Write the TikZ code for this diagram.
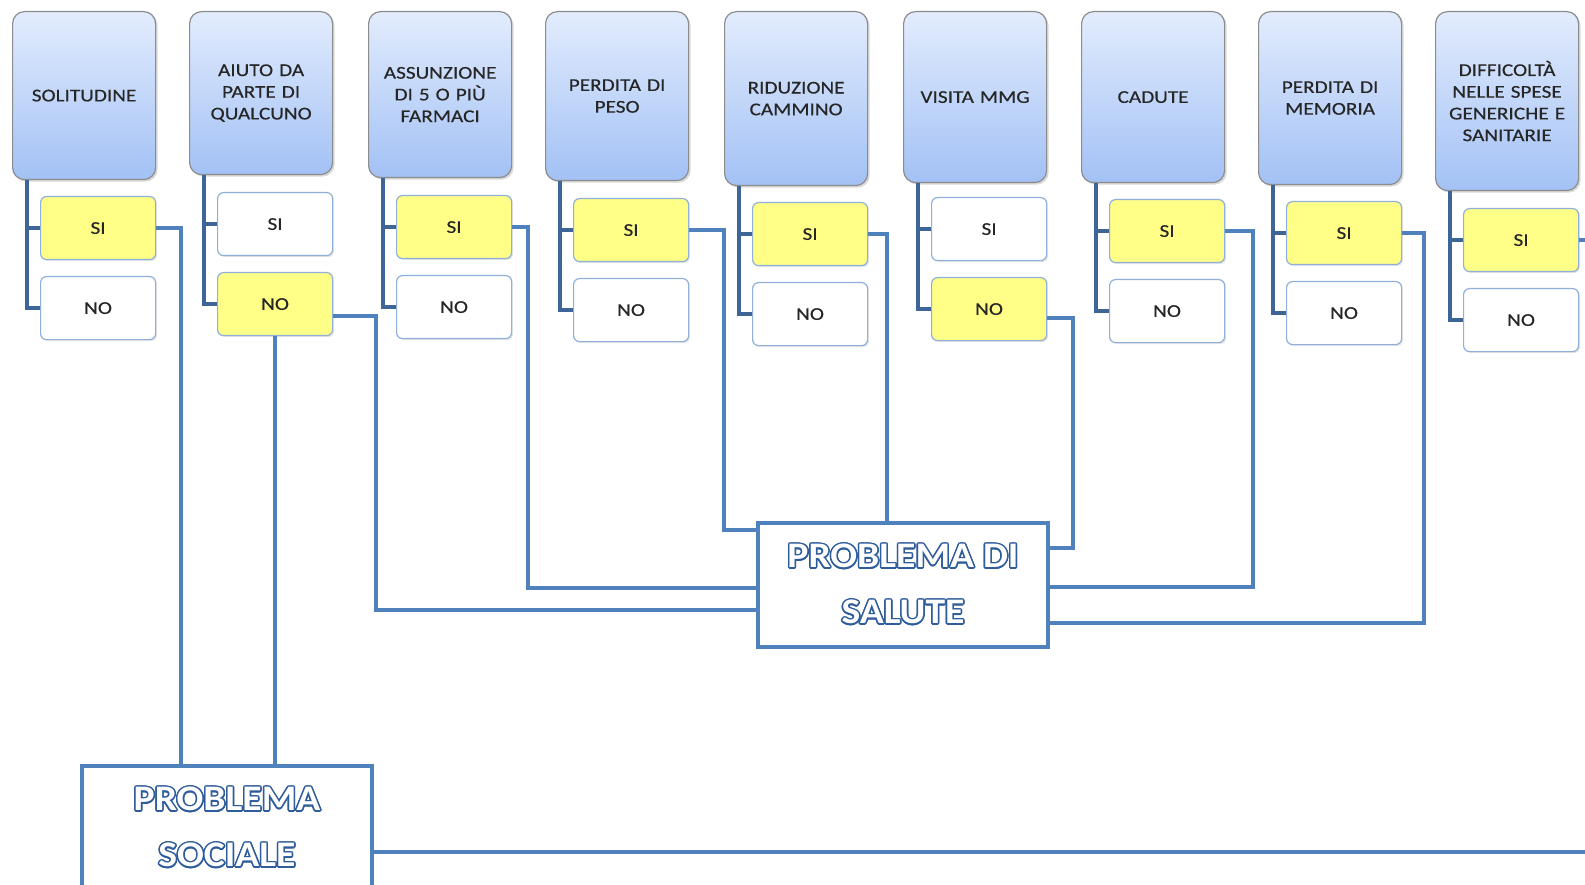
\documentclass[tikz,border=0pt]{standalone}
\usepackage{fontspec}
\usepackage{contour}
\usetikzlibrary{shadows}
\setmainfont{Carlito}
\newfontfamily\headfont[FakeStretch=1.18, FakeBold=0.4]{Carlito}
\newfontfamily\problemfont[FakeStretch=1.1]{Carlito}
\definecolor{headtop}{HTML}{E2ECFD}
\definecolor{headbottom}{HTML}{A3C1F5}
\definecolor{headborder}{HTML}{8C8C8C}
\definecolor{answerborder}{HTML}{8EB0DA}
\definecolor{answeryellow}{HTML}{FFFF88}
\definecolor{linkblue}{HTML}{4F81BD}
\definecolor{trunkblue}{HTML}{3D6598}
\definecolor{textgray}{HTML}{262626}
\definecolor{contourblue}{HTML}{2F5C9B}
\contourlength{1.5pt}

\begin{document}
\begin{tikzpicture}[x=1pt, y=-1pt,
headnode/.style={rectangle, rounded corners=12pt, draw=headborder, line width=1.2pt, top color=headtop, bottom color=headbottom, drop shadow={shadow xshift=2pt, shadow yshift=-2pt, opacity=0.3}, anchor=north west, minimum width=143, text width=135, align=center, inner sep=0pt, text=textgray, font=\headfont\fontsize{18}{21.7}\selectfont},
answernode/.style={rectangle, rounded corners=6pt, draw=answerborder, line width=1.2pt, fill=white, drop shadow={shadow xshift=1.5pt, shadow yshift=-1.5pt, opacity=0.2}, anchor=north west, minimum width=115, minimum height=63, inner sep=0pt, text=textgray, font=\headfont\fontsize{18}{20}\selectfont},
yesnode/.style={fill=answeryellow},
problemnode/.style={rectangle, draw=linkblue, line width=3.5pt, fill=white, minimum width=290, minimum height=124, align=center, text=white, font=\problemfont\bfseries\fontsize{36}{56}\selectfont},
trunk/.style={draw=trunkblue, line width=4pt},
link/.style={draw=linkblue, line width=3.5pt},
]
\useasboundingbox (0,0) rectangle (1585,885);

% Question nodes
\node[headnode, minimum height=168] (solitudine) at (12,11)   {SOLITUDINE};
\node[headnode, minimum height=163] (aiuto)      at (189,11)  {AIUTO DA\\PARTE DI\\QUALCUNO};
\node[headnode, minimum height=166] (farmaci)    at (368,11)  {ASSUNZIONE\\DI 5 O PIÙ\\FARMACI};
\node[headnode, minimum height=169] (peso)       at (545,11)  {PERDITA DI\\PESO};
\node[headnode, minimum height=174] (cammino)    at (724,11)  {RIDUZIONE\\CAMMINO};
\node[headnode, minimum height=171] (visita)     at (903,11)  {VISITA MMG};
\node[headnode, minimum height=171] (cadute)     at (1081,11) {CADUTE};
\node[headnode, minimum height=173] (memoria)    at (1258,11) {PERDITA DI\\MEMORIA};
\node[headnode, minimum height=179] (spese)      at (1435,11) {DIFFICOLTÀ\\NELLE SPESE\\GENERICHE E\\SANITARIE};

% Answer nodes
\node[answernode, yesnode] (si1) at (40,196)   {SI};
\node[answernode]          (no1) at (40,276)   {NO};
\node[answernode]          (si2) at (217,192)  {SI};
\node[answernode, yesnode] (no2) at (217,272)  {NO};
\node[answernode, yesnode] (si3) at (396,195)  {SI};
\node[answernode]          (no3) at (396,275)  {NO};
\node[answernode, yesnode] (si4) at (573,198)  {SI};
\node[answernode]          (no4) at (573,278)  {NO};
\node[answernode, yesnode] (si5) at (752,202)  {SI};
\node[answernode]          (no5) at (752,282)  {NO};
\node[answernode]          (si6) at (931,197)  {SI};
\node[answernode, yesnode] (no6) at (931,277)  {NO};
\node[answernode, yesnode] (si7) at (1109,199) {SI};
\node[answernode]          (no7) at (1109,279) {NO};
\node[answernode, yesnode] (si8) at (1286,201) {SI};
\node[answernode]          (no8) at (1286,281) {NO};
\node[answernode, yesnode] (si9) at (1463,208) {SI};
\node[answernode]          (no9) at (1463,288) {NO};

% Result nodes
\node[problemnode] (salute) at (903,585) {\contour{contourblue}{PROBLEMA DI}\\\contour{contourblue}{SALUTE}};
\node[problemnode, anchor=north] (sociale) at (227,764) {\contour{contourblue}{PROBLEMA}\\\contour{contourblue}{SOCIALE}};

% Trunks
\draw[trunk] ([xshift=15pt]solitudine.south west) |- (no1.west);
\draw[trunk] (si1.west) -- ++(-13,0);
\draw[trunk] ([xshift=15pt]aiuto.south west) |- (no2.west);
\draw[trunk] (si2.west) -- ++(-13,0);
\draw[trunk] ([xshift=15pt]farmaci.south west) |- (no3.west);
\draw[trunk] (si3.west) -- ++(-13,0);
\draw[trunk] ([xshift=15pt]peso.south west) |- (no4.west);
\draw[trunk] (si4.west) -- ++(-13,0);
\draw[trunk] ([xshift=15pt]cammino.south west) |- (no5.west);
\draw[trunk] (si5.west) -- ++(-13,0);
\draw[trunk] ([xshift=15pt]visita.south west) |- (no6.west);
\draw[trunk] (si6.west) -- ++(-13,0);
\draw[trunk] ([xshift=15pt]cadute.south west) |- (no7.west);
\draw[trunk] (si7.west) -- ++(-13,0);
\draw[trunk] ([xshift=15pt]memoria.south west) |- (no8.west);
\draw[trunk] (si8.west) -- ++(-13,0);
\draw[trunk] ([xshift=15pt]spese.south west) |- (no9.west);
\draw[trunk] (si9.west) -- ++(-13,0);

% Links to the results
\draw[link] (si1.east) -| ([xshift=-46pt]sociale.north);
\draw[link] (no2.south) -- (no2.south |- sociale.north);
\draw[link] ([yshift=-12pt]no2.east) -- ++(43,0) |- ([yshift=-25pt]salute.west);
\draw[link] (si3.east) -- ++(16,0) |- ([yshift=-3pt]salute.west);
\draw[link] (si4.east) -- ++(35,0) |- ([yshift=55pt]salute.west);
\draw[link] (si5.east) -| ([xshift=-16pt]salute.north);
\draw[link] ([yshift=-9pt]no6.east) -- ++(26,0) |- ([yshift=37pt]salute.east);
\draw[link] (si7.east) -- ++(28,0) |- ([yshift=-2pt]salute.east);
\draw[link] (si8.east) -- ++(22,0) |- ([yshift=-38pt]salute.east);
\draw[link] (si9.east) -- ++(20,0);
\draw[link] ([yshift=-24pt]sociale.east) -- ++(1300,0);
\end{tikzpicture}
\end{document}
